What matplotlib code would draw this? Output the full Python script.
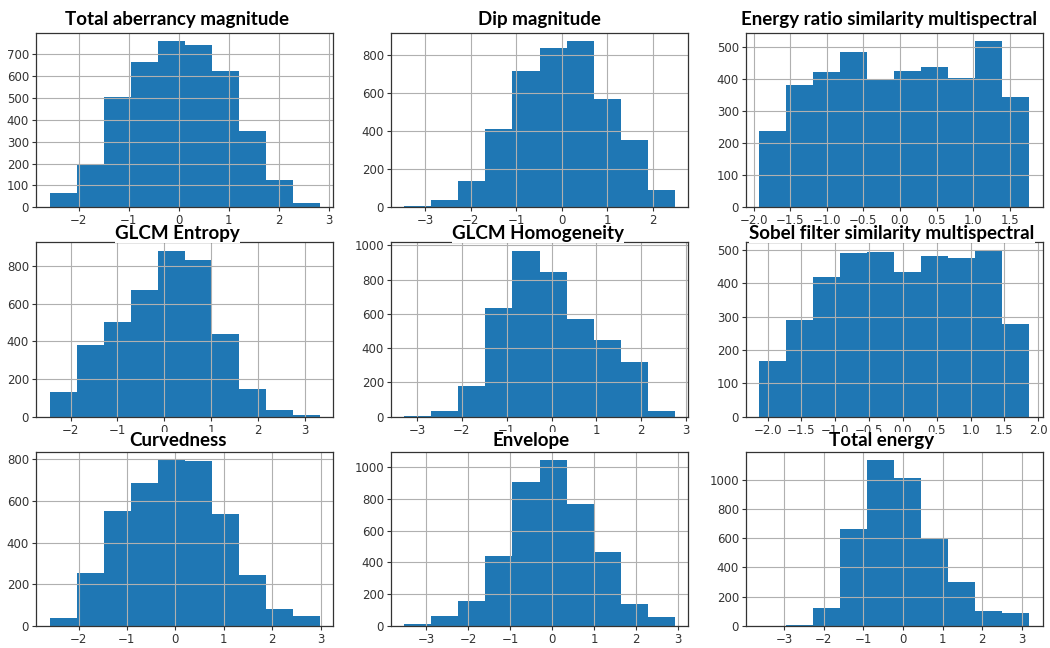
import numpy as np
import matplotlib.pyplot as plt
from matplotlib.ticker import MultipleLocator

# standardised seismic attributes, 10 bins each
titles = ['Total aberrancy magnitude', 'Dip magnitude', 'Energy ratio similarity multispectral',
          'GLCM Entropy', 'GLCM Homogeneity', 'Sobel filter similarity multispectral',
          'Curvedness', 'Envelope', 'Total energy']

bin_lo = [-2.58, -3.46, -1.92, -2.45, -3.28, -2.12, -2.60, -3.52, -3.62]
bin_hi = [2.82, 2.48, 1.77, 3.31, 2.74, 1.87, 2.98, 2.91, 3.19]

aberrancy = [65, 200, 505, 662, 758, 739, 622, 348, 126, 22]
dip = [7, 37, 139, 412, 716, 837, 874, 570, 354, 93]
energy_ratio = [237, 381, 421, 484, 398, 424, 438, 405, 518, 345]
entropy = [131, 379, 502, 674, 883, 835, 441, 145, 34, 11]
homogeneity = [6, 35, 181, 634, 969, 842, 568, 449, 317, 35]
sobel = [166, 290, 420, 492, 495, 433, 481, 477, 498, 279]
curvedness = [40, 257, 553, 689, 798, 792, 538, 243, 80, 47]
envelope = [10, 63, 157, 437, 902, 1044, 766, 464, 136, 59]
total_energy = [1, 9, 126, 660, 1135, 1009, 598, 299, 105, 87]

counts = [aberrancy, dip, energy_ratio, entropy, homogeneity, sobel,
          curvedness, envelope, total_energy]

x_steps = [1, 1, 0.5, 1, 1, 0.5, 1, 1, 1]
y_steps = [100, 200, 100, 200, 200, 100, 200, 200, 200]
title_x = [0.475, 0.5, 0.48, 0.477, 0.495, 0.49, 0.478, 0.471, 0.456]
title_pad = [6, 6, 6, 2, 2, 2, 4, 4, 4]

fig, axes = plt.subplots(3, 3, figsize=(10.5, 6.48), dpi=100)
fig.subplots_adjust(left=36 / 1050, right=1043 / 1050, top=1 - 33 / 648,
                    bottom=1 - 626 / 648, wspace=0.195, hspace=0.2)

for i, ax in enumerate(axes.flat):
    edges = np.linspace(bin_lo[i], bin_hi[i], len(counts[i]) + 1)
    ax.hist(edges[:-1], bins=edges, weights=counts[i], color='#1f77b4')
    ax.grid(True, color='#b0b0b0', linewidth=0.8)
    ax.xaxis.set_major_locator(MultipleLocator(x_steps[i]))
    ax.yaxis.set_major_locator(MultipleLocator(y_steps[i]))
    ax.tick_params(labelsize=8.5, colors='#333333', length=3, width=0.8, pad=2)
    for s in ax.spines.values():
        s.set_color('#333333')
        s.set_linewidth(0.9)
    ax.set_title(titles[i], x=title_x[i], pad=title_pad[i], fontsize=13.5,
                 fontweight='bold', family=['Lato', 'DejaVu Sans'],
                 bbox=dict(facecolor='white', edgecolor='none', pad=0.3))

plt.savefig('out.png', dpi=100)
